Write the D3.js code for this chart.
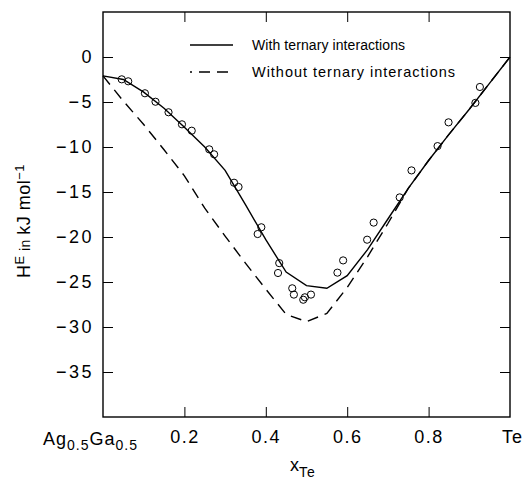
<!DOCTYPE html>
<html>
<head>
<meta charset="utf-8">
<script src="https://cdn.jsdelivr.net/npm/d3@7"></script>
<style>
  html, body { margin: 0; padding: 0; background: #fff; }
  svg { display: block; }
  text { font-family: "Liberation Sans", Arial, sans-serif; fill: #000; }
</style>
</head>
<body>
<svg id="chart" width="529" height="482"></svg>
<script>
// ---- data ----
const xTicks = [0.2, 0.4, 0.6, 0.8];
const xTickLabels = ["0.2", "0.4", "0.6", "0.8"];
const yTicks = [0, -5, -10, -15, -20, -25, -30, -35];
const yTickLabels = ["0", "\u22125", "\u221210", "\u221215", "\u221220", "\u221225", "\u221230", "\u221235"];

const curveX = [0, 0.05, 0.1, 0.15, 0.2, 0.25, 0.3, 0.35, 0.4, 0.45, 0.5, 0.55, 0.6, 0.65, 0.7, 0.75, 0.8, 0.85, 0.9, 0.95, 1.0];
const withTernary = [-2.1, -2.5, -3.9, -5.7, -7.8, -10.0, -12.6, -16.4, -20.3, -23.9, -25.4, -25.7, -24.3, -21.4, -18.0, -14.6, -11.5, -8.6, -5.8, -2.9, 0];
const withoutTernary = [-2.1, -4.9, -7.5, -10.3, -13.2, -16.8, -19.9, -22.9, -25.8, -28.6, -29.4, -28.5, -25.6, -22.2, -18.5, -14.6, -11.5, -8.6, -5.8, -2.9, 0];

const expX = [0.046, 0.062, 0.103, 0.129, 0.161, 0.194, 0.218, 0.261, 0.273, 0.322, 0.333, 0.389, 0.380, 0.433, 0.430, 0.465, 0.469, 0.511, 0.496, 0.492, 0.576, 0.590, 0.649, 0.665, 0.729, 0.758, 0.822, 0.849, 0.915, 0.926];
const expY = [-2.48, -2.7, -4.03, -4.97, -6.14, -7.48, -8.19, -10.26, -10.81, -13.97, -14.44, -18.92, -19.67, -22.9, -24.0, -25.7, -26.4, -26.4, -26.7, -26.97, -23.96, -22.6, -20.3, -18.4, -15.6, -12.6, -9.9, -7.26, -5.1, -3.33];

const legendLabels = ["With ternary interactions", "Without ternary interactions"];

// ---- layout ----
const L = 103, R = 510, T = 12, B = 417;
const svg = d3.select("#chart");
const x = d3.scaleLinear().domain([0, 1]).range([L, R]);
const y = d3.scaleLinear().domain([-40, 5]).range([B, T]);

const tickFont = 18;

// bottom axis
const gB = svg.append("g").attr("transform", `translate(0,${B})`)
  .call(d3.axisBottom(x).tickValues(xTicks).tickSize(-10).tickPadding(13)
    .tickFormat((d, i) => xTickLabels[i]));
// top axis
const gT = svg.append("g").attr("transform", `translate(0,${T})`)
  .call(d3.axisTop(x).tickValues(xTicks).tickSize(-10).tickFormat(""));
// left axis
const gL = svg.append("g").attr("transform", `translate(${L},0)`)
  .call(d3.axisLeft(y).tickValues(yTicks).tickSize(-10).tickPadding(9)
    .tickFormat((d, i) => yTickLabels[i]));
// right axis
const gR = svg.append("g").attr("transform", `translate(${R},0)`)
  .call(d3.axisRight(y).tickValues(yTicks).tickSize(-10).tickFormat(""));

[gB, gT, gL, gR].forEach(g => {
  g.select(".domain").remove();
  g.selectAll(".tick line").attr("stroke", "#000").attr("stroke-width", 1);
  g.selectAll(".tick text").attr("font-size", tickFont).attr("font-family", "Liberation Sans, Arial, sans-serif")
    .attr("fill", "#000");
});
gB.selectAll(".tick text").style("letter-spacing", "1.5px");
gL.selectAll(".tick text").style("letter-spacing", "2.5px");

// frame
svg.append("rect").attr("x", L).attr("y", T).attr("width", R - L).attr("height", B - T)
  .attr("fill", "none").attr("stroke", "#000").attr("stroke-width", 1.4);

// end labels on x axis
const agLabel = svg.append("text").attr("x", 43).attr("y", 445).attr("font-size", 18).style("letter-spacing", "1px");
agLabel.append("tspan").text("Ag");
agLabel.append("tspan").attr("font-size", 14).attr("dy", 5).text("0.5");
agLabel.append("tspan").attr("dy", -5).text("Ga");
agLabel.append("tspan").attr("font-size", 14).attr("dy", 5).text("0.5");

svg.append("text").attr("x", 502).attr("y", 443).attr("font-size", 18).style("letter-spacing", "1px").text("Te");

// x title
const xt = svg.append("text").attr("x", 290).attr("y", 471).attr("font-size", 18);
xt.append("tspan").text("x");
xt.append("tspan").attr("font-size", 14).attr("dy", 6).style("letter-spacing", "1px").text("Te");

// y title
const yt = svg.append("text").attr("transform", "translate(30,221) rotate(-90)")
  .attr("text-anchor", "middle").attr("font-size", 18).style("letter-spacing", "0.5px");
yt.append("tspan").text("H");
yt.append("tspan").attr("font-size", 13).attr("dy", -6).text("E");
yt.append("tspan").attr("font-size", 14).attr("dy", 6).text(" in ");
yt.append("tspan").text("kJ mol");
yt.append("tspan").attr("font-size", 13).attr("dy", -6).text("\u22121");

// curves
const line = d3.line().x((d, i) => x(curveX[i])).y(d => y(d)).curve(d3.curveLinear);
svg.append("path").attr("d", line(withTernary)).attr("fill", "none")
  .attr("stroke", "#000").attr("stroke-width", 1.4);
svg.append("path").attr("d", line(withoutTernary)).attr("fill", "none")
  .attr("stroke", "#000").attr("stroke-width", 1.4).attr("stroke-dasharray", "11,7");

// points
svg.append("g").selectAll("circle").data(expX).join("circle")
  .attr("cx", d => x(d)).attr("cy", (d, i) => y(expY[i])).attr("r", 3.6)
  .attr("fill", "none").attr("stroke", "#000").attr("stroke-width", 1);

// legend
svg.append("line").attr("x1", 190).attr("x2", 233).attr("y1", 45).attr("y2", 45)
  .attr("stroke", "#000").attr("stroke-width", 1.4);
svg.append("line").attr("x1", 190).attr("x2", 233).attr("y1", 72).attr("y2", 72)
  .attr("stroke", "#000").attr("stroke-width", 1.4).attr("stroke-dasharray", "11,7").attr("stroke-dashoffset", 9);
svg.append("text").attr("x", 252).attr("y", 50).attr("font-size", 14)
  .attr("textLength", 153).attr("lengthAdjust", "spacing").text(legendLabels[0]);
svg.append("text").attr("x", 252).attr("y", 77).attr("font-size", 14.5)
  .attr("textLength", 203).attr("lengthAdjust", "spacing").text(legendLabels[1]);
</script>
</body>
</html>
